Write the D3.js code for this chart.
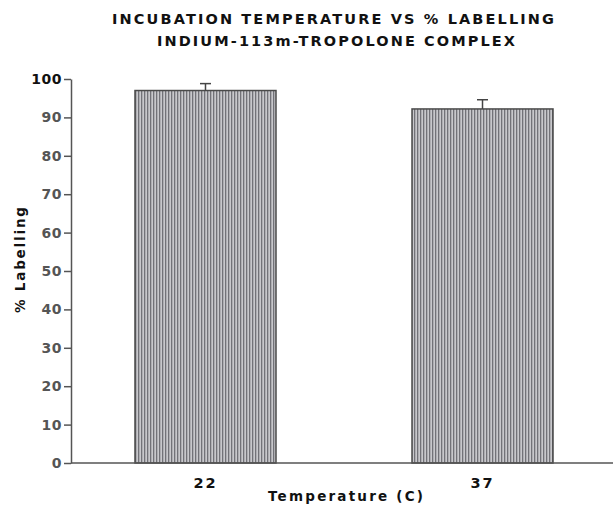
<!DOCTYPE html>
<html><head><meta charset="utf-8">
<script src="https://cdn.jsdelivr.net/npm/d3@7/dist/d3.min.js"></script>
<style>body{margin:0;background:#fff}svg{display:block}</style>
</head><body>
<script>
const categories = ["22", "37"];
const values = [97.0, 92.2];
const errors = [1.8, 2.4];
const yTicks = [0, 10, 20, 30, 40, 50, 60, 70, 80, 90, 100];
const titleLines = ["INCUBATION TEMPERATURE VS % LABELLING", "INDIUM-113m-TROPOLONE COMPLEX"];
const xTitle = "Temperature (C)";
const yTitle = "% Labelling";

const W = 613, H = 508;
const svg = d3.select("body").append("svg").attr("width", W).attr("height", H);
const font = "'DejaVu Sans', 'Liberation Sans', Arial, sans-serif";

const defs = svg.append("defs");
const pat = defs.append("pattern").attr("id", "stripes").attr("patternUnits", "userSpaceOnUse")
  .attr("width", 3).attr("height", 10);
pat.append("rect").attr("width", 3).attr("height", 10).attr("fill", "#c8c8cc");
pat.append("rect").attr("width", 1.3).attr("height", 10).attr("fill", "#727278");

const x = d3.scaleBand().domain(categories).range([71, 617]).paddingInner(0.491).paddingOuter(0.231);
const y = d3.scaleLinear().domain([0, 100]).range([463, 79]);

// bars
svg.selectAll("rect.bar").data(categories).join("rect").attr("class", "bar")
  .attr("x", d => x(d)).attr("width", x.bandwidth())
  .attr("y", (d, i) => y(values[i])).attr("height", (d, i) => y(0) - y(values[i]))
  .attr("fill", "url(#stripes)").attr("stroke", "#4a4a4a").attr("stroke-width", 1.5);

// error bars (upward only)
const eb = svg.append("g").attr("stroke", "#444").attr("stroke-width", 1.5);
categories.forEach((c, i) => {
  const cx = x(c) + x.bandwidth() / 2;
  eb.append("line").attr("x1", cx).attr("x2", cx).attr("y1", y(values[i])).attr("y2", y(values[i] + errors[i]));
  eb.append("line").attr("x1", cx - 5.5).attr("x2", cx + 5.5).attr("y1", y(values[i] + errors[i])).attr("y2", y(values[i] + errors[i]));
});

// y axis
const yAxis = svg.append("g").attr("transform", "translate(71,0)")
  .call(d3.axisLeft(y).tickValues(yTicks).tickSize(7).tickPadding(2).tickSizeOuter(0));
yAxis.select(".domain").attr("stroke", "#555").attr("stroke-width", 1.5);
yAxis.selectAll(".tick line").attr("stroke", "#555").attr("stroke-width", 1.5);
yAxis.selectAll(".tick text").attr("font-family", font).attr("font-weight", "bold")
  .attr("font-size", 14).attr("fill", d => d === 100 ? "#111" : "#555").attr("letter-spacing", 0.5);

// x axis line
svg.append("line").attr("x1", 71).attr("x2", W).attr("y1", y(0)).attr("y2", y(0))
  .attr("stroke", "#555").attr("stroke-width", 1.5);

// category labels
svg.selectAll("text.cat").data(categories).join("text").attr("class", "cat")
  .attr("x", d => x(d) + x.bandwidth() / 2).attr("y", 487.5)
  .attr("text-anchor", "middle").attr("font-family", font).attr("font-weight", "bold")
  .attr("font-size", 14.5).attr("letter-spacing", 2).attr("fill", "#111").text(d => d);

// x title
svg.append("text").attr("x", 268).attr("y", 501)
  .attr("font-family", font).attr("font-weight", "bold").attr("font-size", 13.5)
  .attr("textLength", 155).attr("lengthAdjust", "spacing")
  .attr("fill", "#111").text(xTitle);

// y title
svg.append("text").attr("transform", "translate(24.5,313) rotate(-90)")
  .attr("font-family", font).attr("font-weight", "bold").attr("font-size", 13.5)
  .attr("textLength", 106).attr("lengthAdjust", "spacing")
  .attr("fill", "#111").text(yTitle);

// titles
const titleX = [112, 157], titleLen = [442, 358], titleY = [23.5, 46];
svg.selectAll("text.title").data(titleLines).join("text").attr("class", "title")
  .attr("x", (d, i) => titleX[i]).attr("y", (d, i) => titleY[i])
  .attr("textLength", (d, i) => titleLen[i]).attr("lengthAdjust", "spacing")
  .attr("font-family", font).attr("font-weight", "bold").attr("font-size", 14.5)
  .attr("fill", "#111").text(d => d);
</script>
</body></html>
